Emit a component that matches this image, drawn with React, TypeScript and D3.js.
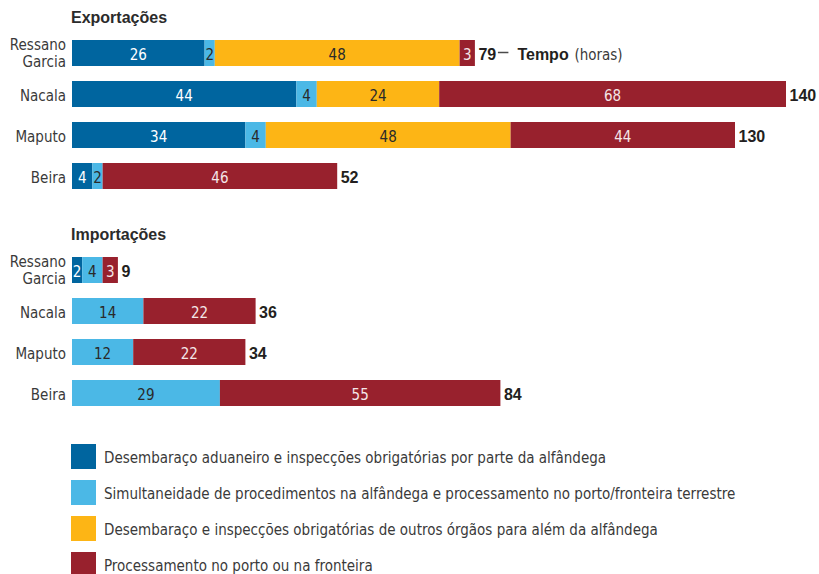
import React from "react";
import * as d3 from "d3";

const WIDTH = 819;
const HEIGHT = 574;

const categories = ["Ressano Garcia", "Nacala", "Maputo", "Beira"];
const seriesKeys = ["aduana", "simultaneo", "outros", "porto"];

// Exportações (horas)
const exportAduana = [26, 44, 34, 4];
const exportSimultaneo = [2, 4, 4, 2];
const exportOutros = [48, 24, 48, 0];
const exportPorto = [3, 68, 44, 46];

// Importações (horas)
const importAduana = [2, 0, 0, 0];
const importSimultaneo = [4, 14, 12, 29];
const importOutros = [0, 0, 0, 0];
const importPorto = [3, 22, 22, 55];

const legendLabels = [
  "Desembaraço aduaneiro e inspecções obrigatórias por parte da alfândega",
  "Simultaneidade de procedimentos na alfândega e processamento no porto/fronteira terrestre",
  "Desembaraço e inspecções obrigatórias de outros órgãos para além da alfândega",
  "Processamento no porto ou na fronteira",
];

const colors = ["#00659f", "#4bb8e6", "#fdb515", "#98212d"];
const labelColors = ["#ffffff", "#2a2a2a", "#2a2a2a", "#f4e6e8"];

const FONT = "'DejaVu Sans Condensed', 'Liberation Sans Narrow', sans-serif";
const BOLD_FONT = "'Liberation Sans', Arial, sans-serif";
const TEXT_SIZE = 15;

type Row = { cat: string; [k: string]: number | string };

function buildRows(a: number[], b: number[], c: number[], d: number[]): Row[] {
  return categories.map((cat, i) => ({
    cat,
    aduana: a[i],
    simultaneo: b[i],
    outros: c[i],
    porto: d[i],
  }));
}

const exportRows = buildRows(exportAduana, exportSimultaneo, exportOutros, exportPorto);
const importRows = buildRows(importAduana, importSimultaneo, importOutros, importPorto);

const x = d3.scaleLinear().domain([0, 140]).range([72, 786]);

function makeY(top: number) {
  const step = 41;
  const gap = 15;
  return d3
    .scaleBand<string>()
    .domain(categories)
    .range([top, top + categories.length * step - gap])
    .paddingInner(gap / step)
    .paddingOuter(0);
}

function Panel({ rows, top, title, note }: { rows: Row[]; top: number; title: string; note?: boolean }) {
  const y = makeY(top);
  const stack = d3.stack<Row>().keys(seriesKeys).value((d, k) => d[k] as number);
  const layers = stack(rows);
  const bw = y.bandwidth();

  return (
    <g>
      <text x={71} y={top - 17} fontFamily={BOLD_FONT} fontSize={16} fontWeight="bold" fill="#2b2b2b">
        {title}
      </text>
      {rows.map((r) => {
        const cy = (y(r.cat) as number) + bw / 2;
        const parts = r.cat.split(" ");
        return parts.length > 1 ? (
          <g key={r.cat}>
            <text x={66} y={cy - 3.5} textAnchor="end" fontFamily={FONT} fontSize={TEXT_SIZE} fill="#3a3a3a">
              {parts[0]}
            </text>
            <text x={66} y={cy + 13.5} textAnchor="end" fontFamily={FONT} fontSize={TEXT_SIZE} fill="#3a3a3a">
              {parts[1]}
            </text>
          </g>
        ) : (
          <text key={r.cat} x={66} y={cy + 7} textAnchor="end" fontFamily={FONT} fontSize={TEXT_SIZE} fill="#3a3a3a">
            {r.cat}
          </text>
        );
      })}
      {layers.map((layer, li) => (
        <g key={layer.key}>
          {layer.map((seg, i) => {
            const v = seg[1] - seg[0];
            if (v <= 0) return null;
            const yy = y(categories[i]) as number;
            const x0 = x(seg[0]);
            const x1 = x(seg[1]);
            return (
              <g key={i}>
                <rect x={x0} y={yy} width={x1 - x0} height={bw} fill={colors[li]} />
                <text
                  x={(x0 + x1) / 2}
                  y={yy + bw / 2 + 7}
                  textAnchor="middle"
                  fontFamily={FONT}
                  fontSize={TEXT_SIZE}
                  fill={labelColors[li]}
                >
                  {v}
                </text>
              </g>
            );
          })}
        </g>
      ))}
      {rows.map((r, i) => {
        const total = seriesKeys.reduce((s, k) => s + (r[k] as number), 0);
        const yy = (y(r.cat) as number) + bw / 2;
        const xe = x(total) + 3.5;
        return (
          <g key={"t" + r.cat}>
            <text x={xe} y={yy + 7} fontFamily={BOLD_FONT} fontSize={16} fontWeight="bold" fill="#231f20">
              {total}
            </text>
            {note && i === 0 && (
              <>
                <line x1={xe + 19.5} x2={xe + 30} y1={yy - 0.5} y2={yy - 0.5} stroke="#4a4a4a" strokeWidth={1.5} />
                <text x={xe + 39} y={yy + 7} fontFamily={BOLD_FONT} fontSize={16} fontWeight="bold" fill="#231f20">
                  Tempo
                </text>
                <text x={xe + 96} y={yy + 7} fontFamily={FONT} fontSize={TEXT_SIZE} fill="#3a3a3a">
                  (horas)
                </text>
              </>
            )}
          </g>
        );
      })}
    </g>
  );
}

export default function App() {
  const legendY = d3.scaleLinear().domain([0, 1]).range([444, 480]);
  return (
    <svg
      width={WIDTH}
      height={HEIGHT}
      viewBox={`0 0 ${WIDTH} ${HEIGHT}`}
      style={{ position: "absolute", left: 0, top: 0, background: "#ffffff" }}
    >
      <rect width={WIDTH} height={HEIGHT} fill="#ffffff" />
      <Panel rows={exportRows} top={40} title="Exportações" note />
      <Panel rows={importRows} top={257} title="Importações" />
      {legendLabels.map((label, i) => {
        const ly = legendY(i);
        return (
          <g key={label}>
            <rect x={71} y={ly} width={25} height={25} fill={colors[i]} />
            <text x={104} y={ly + 19} fontFamily={FONT} fontSize={TEXT_SIZE} fill="#3a3a3a">
              {label}
            </text>
          </g>
        );
      })}
    </svg>
  );
}
